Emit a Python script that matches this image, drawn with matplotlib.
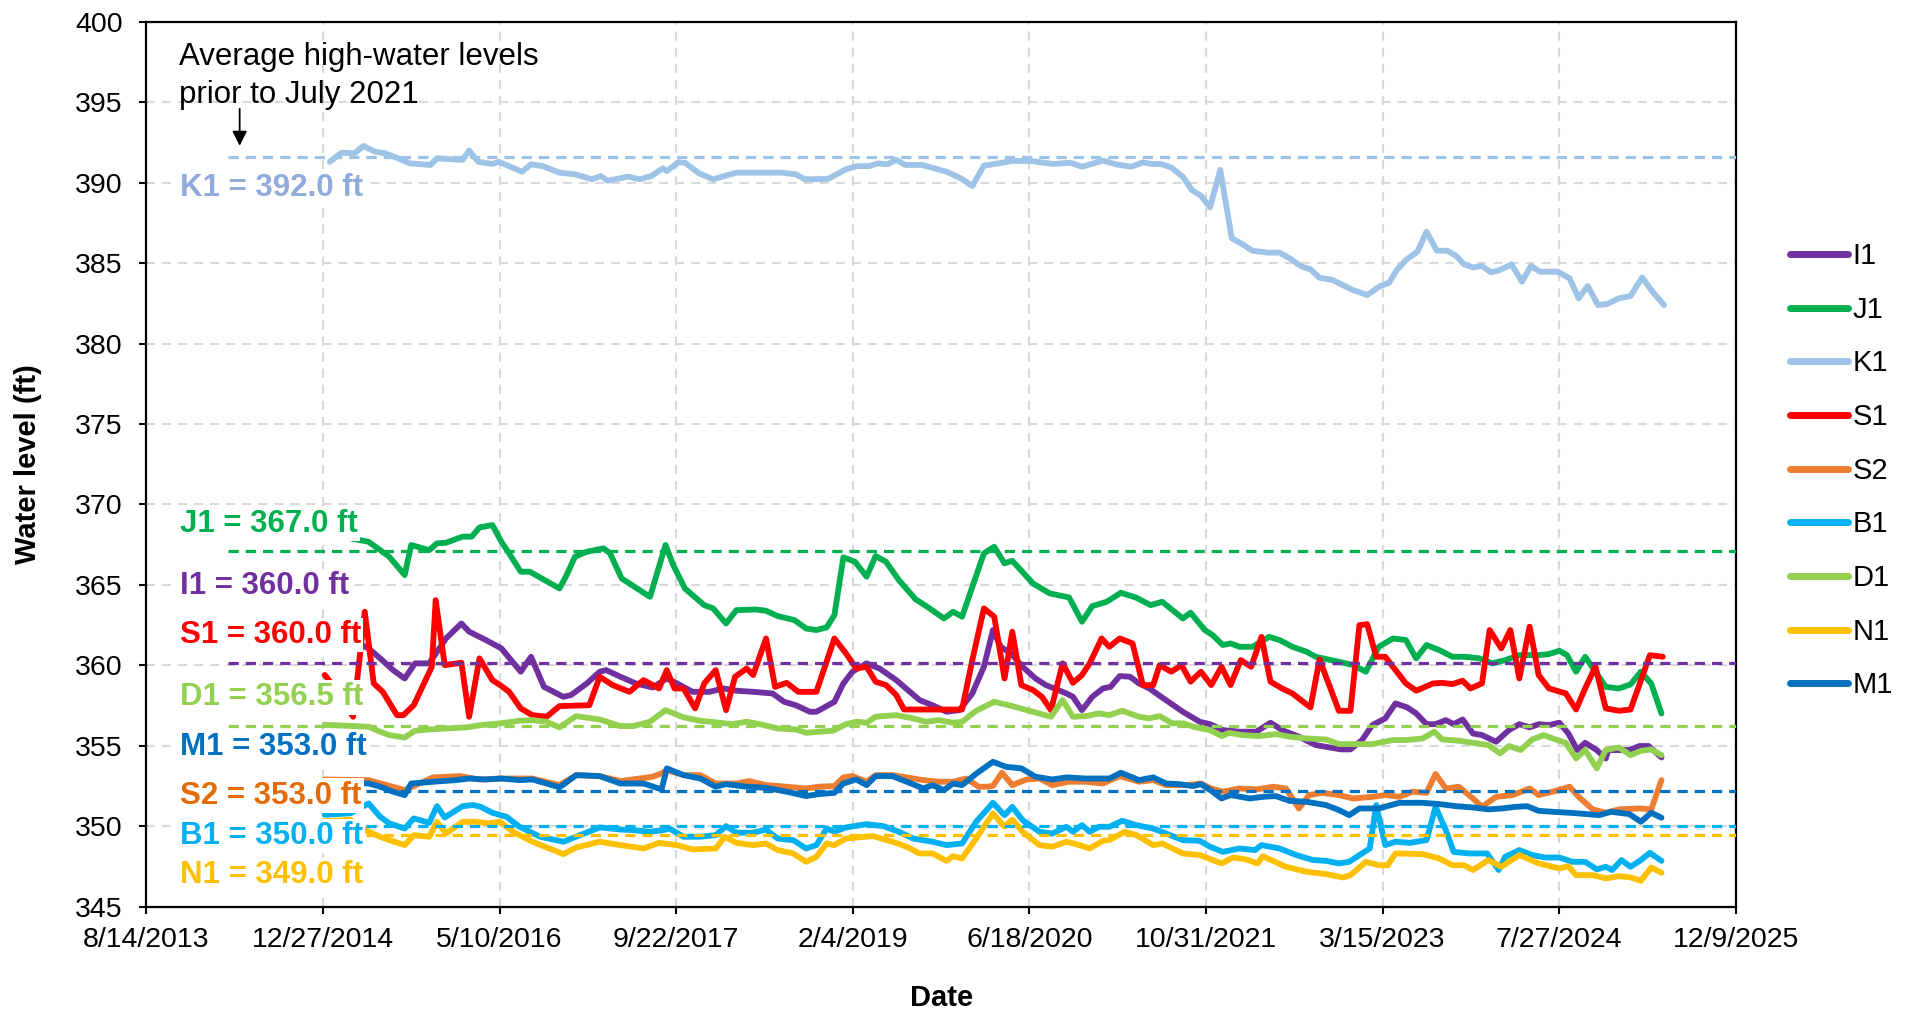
import datetime as dt
import matplotlib
matplotlib.use('Agg')
import matplotlib.pyplot as plt
from matplotlib.lines import Line2D

plt.rcParams['font.family'] = ['Liberation Sans', 'DejaVu Sans']

# water levels (decimal year, ft)
I1 = [(2015.0, 362.3), (2015.2, 361.6), (2015.34, 361.05), (2015.43, 360.43), (2015.53, 359.7), (2015.62, 359.18),
      (2015.70, 360.12), (2015.81, 360.12), (2015.94, 361.67), (2016.06, 362.6), (2016.12, 362.09), (2016.25, 361.57),
      (2016.37, 361.05), (2016.52, 359.6), (2016.60, 360.53), (2016.70, 358.66), (2016.85, 358.04), (2016.91, 358.15),
      (2017.03, 358.87), (2017.13, 359.6), (2017.18, 359.7), (2017.29, 359.29), (2017.41, 358.87), (2017.54, 358.62),
      (2017.65, 359.18), (2017.73, 358.87), (2017.85, 358.35), (2017.98, 358.35), (2018.09, 358.56), (2018.19, 358.42),
      (2018.32, 358.35), (2018.47, 358.25), (2018.56, 357.73), (2018.65, 357.52), (2018.76, 357.11), (2018.81, 357.11),
      (2018.95, 357.73), (2019.02, 358.87), (2019.09, 359.6), (2019.20, 360.12), (2019.30, 359.8), (2019.43, 359.08),
      (2019.61, 357.84), (2019.71, 357.52), (2019.82, 357.11), (2019.92, 357.21), (2020.02, 358.25), (2020.11, 359.91),
      (2020.18, 362.19), (2020.24, 361.15), (2020.32, 360.74), (2020.41, 359.91), (2020.51, 359.18), (2020.59, 358.77),
      (2020.75, 358.25), (2020.80, 358.04), (2020.87, 357.21), (2020.95, 358.04), (2021.03, 358.56), (2021.09, 358.66),
      (2021.16, 359.33), (2021.24, 359.29), (2021.31, 358.87), (2021.39, 358.56), (2021.50, 357.94), (2021.65, 357.11),
      (2021.78, 356.49), (2021.86, 356.34), (2021.96, 355.97), (2022.09, 355.87), (2022.22, 355.87), (2022.33, 356.43),
      (2022.42, 355.97), (2022.55, 355.56), (2022.68, 355.04), (2022.76, 354.93), (2022.88, 354.77), (2022.95, 354.77),
      (2023.04, 355.35), (2023.12, 356.28), (2023.22, 356.7), (2023.30, 357.63), (2023.39, 357.38), (2023.46, 357.01),
      (2023.54, 356.34), (2023.61, 356.34), (2023.69, 356.59), (2023.75, 356.34), (2023.82, 356.63), (2023.90, 355.76),
      (2023.97, 355.66), (2024.08, 355.25), (2024.18, 355.97), (2024.26, 356.34), (2024.34, 356.14), (2024.41, 356.34),
      (2024.49, 356.28), (2024.57, 356.43), (2024.64, 355.76), (2024.71, 354.73), (2024.77, 355.18), (2024.86, 354.73),
      (2024.93, 354.21), (2024.95, 354.73), (2025.03, 354.73), (2025.11, 354.73), (2025.19, 354.98), (2025.26, 354.98),
      (2025.36, 354.27)]

J1 = [(2015.0, 368.2), (2015.34, 367.68), (2015.43, 367.16), (2015.50, 366.75), (2015.62, 365.61), (2015.67, 367.48),
      (2015.81, 367.16), (2015.87, 367.58), (2015.94, 367.62), (2016.07, 368.0), (2016.14, 368.0), (2016.20, 368.57),
      (2016.30, 368.72), (2016.37, 367.68), (2016.43, 366.96), (2016.52, 365.82), (2016.59, 365.82), (2016.82, 364.78),
      (2016.87, 365.51), (2016.94, 366.75), (2017.03, 367.06), (2017.16, 367.27), (2017.21, 366.96), (2017.30, 365.40),
      (2017.52, 364.26), (2017.64, 367.48), (2017.70, 366.23), (2017.79, 364.78), (2017.94, 363.74), (2018.01, 363.54),
      (2018.11, 362.6), (2018.19, 363.43), (2018.34, 363.47), (2018.42, 363.39), (2018.51, 363.06), (2018.64, 362.81),
      (2018.73, 362.29), (2018.81, 362.19), (2018.89, 362.36), (2018.95, 363.12), (2019.02, 366.71), (2019.11, 366.44),
      (2019.20, 365.51), (2019.27, 366.79), (2019.35, 366.44), (2019.45, 365.3), (2019.58, 364.1), (2019.67, 363.64),
      (2019.80, 362.91), (2019.87, 363.33), (2019.94, 363.02), (2020.11, 366.96), (2020.19, 367.37), (2020.27, 366.34),
      (2020.33, 366.5), (2020.49, 365.09), (2020.62, 364.47), (2020.77, 364.22), (2020.87, 362.71), (2020.95, 363.68),
      (2021.06, 363.95), (2021.17, 364.51), (2021.29, 364.2), (2021.40, 363.74), (2021.49, 363.95), (2021.65, 362.91),
      (2021.71, 363.27), (2021.82, 362.19), (2021.88, 361.88), (2021.96, 361.26), (2022.02, 361.36), (2022.09, 361.15),
      (2022.19, 361.15), (2022.32, 361.77), (2022.40, 361.57), (2022.50, 361.15), (2022.61, 360.84), (2022.68, 360.53),
      (2022.86, 360.22), (2022.97, 360.01), (2023.07, 359.6), (2023.17, 361.15), (2023.28, 361.67), (2023.38, 361.57),
      (2023.46, 360.43), (2023.54, 361.26), (2023.64, 360.94), (2023.74, 360.53), (2023.84, 360.53), (2023.95, 360.43),
      (2024.05, 360.12), (2024.15, 360.32), (2024.26, 360.63), (2024.41, 360.63), (2024.49, 360.7), (2024.57, 360.9),
      (2024.63, 360.63), (2024.70, 359.6), (2024.77, 360.53), (2024.93, 358.66), (2025.03, 358.56), (2025.12, 358.81),
      (2025.20, 359.6), (2025.28, 358.87), (2025.36, 357.0)]

K1 = [(2015.04, 391.31), (2015.13, 391.87), (2015.23, 391.83), (2015.30, 392.29), (2015.39, 391.94), (2015.47, 391.83),
      (2015.57, 391.52), (2015.66, 391.21), (2015.82, 391.11), (2015.87, 391.52), (2016.07, 391.42), (2016.12, 392.0),
      (2016.19, 391.31), (2016.30, 391.17), (2016.35, 391.31), (2016.53, 390.69), (2016.60, 391.15), (2016.69, 391.04),
      (2016.82, 390.63), (2016.94, 390.53), (2017.07, 390.22), (2017.14, 390.42), (2017.19, 390.13), (2017.35, 390.38),
      (2017.44, 390.22), (2017.53, 390.42), (2017.62, 390.90), (2017.65, 390.73), (2017.74, 391.27), (2017.79, 391.25),
      (2017.90, 390.59), (2018.01, 390.22), (2018.19, 390.63), (2018.54, 390.63), (2018.65, 390.53), (2018.72, 390.22),
      (2018.90, 390.24), (2019.04, 390.84), (2019.13, 391.04), (2019.22, 391.04), (2019.29, 391.21), (2019.36, 391.15),
      (2019.43, 391.42), (2019.50, 391.11), (2019.63, 391.11), (2019.82, 390.69), (2019.93, 390.28), (2020.02, 389.8),
      (2020.11, 391.07), (2020.18, 391.15), (2020.33, 391.36), (2020.47, 391.36), (2020.65, 391.17), (2020.78, 391.25),
      (2020.87, 391.0), (2021.03, 391.38), (2021.13, 391.15), (2021.25, 391.0), (2021.34, 391.27), (2021.41, 391.17),
      (2021.48, 391.17), (2021.56, 390.96), (2021.65, 390.38), (2021.72, 389.55), (2021.79, 389.2), (2021.86, 388.47),
      (2021.94, 390.8), (2022.03, 386.55), (2022.10, 386.24), (2022.19, 385.78), (2022.31, 385.66), (2022.40, 385.66),
      (2022.48, 385.3), (2022.57, 384.8), (2022.64, 384.62), (2022.71, 384.1), (2022.81, 383.96), (2022.97, 383.33),
      (2023.08, 383.02), (2023.18, 383.58), (2023.25, 383.79), (2023.31, 384.58), (2023.38, 385.2), (2023.47, 385.72),
      (2023.54, 386.96), (2023.62, 385.78), (2023.70, 385.78), (2023.77, 385.45), (2023.83, 384.93), (2023.90, 384.74),
      (2023.97, 384.83), (2024.04, 384.43), (2024.11, 384.58), (2024.20, 384.93), (2024.28, 383.85), (2024.35, 384.83),
      (2024.42, 384.47), (2024.56, 384.47), (2024.65, 384.06), (2024.72, 382.82), (2024.79, 383.58), (2024.87, 382.4),
      (2024.94, 382.46), (2025.03, 382.82), (2025.12, 382.96), (2025.21, 384.12), (2025.29, 383.23), (2025.38, 382.4)]

S1 = [(2015.0, 359.4), (2015.1, 358.4), (2015.22, 356.8), (2015.31, 363.33), (2015.38, 358.87), (2015.45, 358.35),
      (2015.56, 356.90), (2015.61, 356.90), (2015.69, 357.52), (2015.83, 359.91), (2015.86, 364.05), (2015.93, 360.01),
      (2016.06, 360.16), (2016.12, 356.8), (2016.20, 360.43), (2016.30, 359.08), (2016.36, 358.77), (2016.43, 358.35),
      (2016.52, 357.32), (2016.61, 356.90), (2016.72, 356.8), (2016.82, 357.46), (2017.05, 357.52), (2017.13, 359.29),
      (2017.23, 358.77), (2017.36, 358.35), (2017.47, 359.08), (2017.59, 358.56), (2017.65, 359.7), (2017.71, 358.56),
      (2017.78, 358.56), (2017.87, 357.32), (2017.94, 358.87), (2018.03, 359.7), (2018.11, 357.21), (2018.18, 359.29),
      (2018.27, 359.8), (2018.32, 359.39), (2018.42, 361.67), (2018.49, 358.66), (2018.58, 358.91), (2018.67, 358.35),
      (2018.81, 358.35), (2018.95, 361.67), (2019.04, 360.74), (2019.12, 359.8), (2019.20, 359.91), (2019.27, 358.98),
      (2019.35, 358.77), (2019.43, 358.15), (2019.49, 357.25), (2019.94, 357.25), (2020.02, 360.32), (2020.11, 363.54),
      (2020.19, 363.02), (2020.27, 359.18), (2020.33, 362.09), (2020.40, 358.77), (2020.49, 358.46), (2020.56, 358.04),
      (2020.63, 357.21), (2020.72, 360.12), (2020.80, 358.91), (2020.87, 359.39), (2020.93, 360.12), (2021.02, 361.67),
      (2021.08, 361.15), (2021.16, 361.67), (2021.26, 361.36), (2021.34, 358.77), (2021.42, 358.77), (2021.47, 360.01),
      (2021.56, 359.6), (2021.64, 360.01), (2021.71, 358.98), (2021.79, 359.6), (2021.87, 358.77), (2021.95, 359.91),
      (2022.02, 358.77), (2022.10, 360.32), (2022.18, 359.91), (2022.26, 361.77), (2022.33, 358.98), (2022.42, 358.56),
      (2022.50, 358.25), (2022.64, 357.38), (2022.71, 360.36), (2022.86, 357.17), (2022.95, 357.17), (2023.02, 362.5),
      (2023.08, 362.56), (2023.15, 360.53), (2023.22, 360.53), (2023.38, 358.87), (2023.46, 358.42), (2023.59, 358.87),
      (2023.66, 358.91), (2023.74, 358.83), (2023.82, 359.04), (2023.88, 358.56), (2023.97, 358.87), (2024.03, 362.19),
      (2024.12, 361.05), (2024.19, 362.19), (2024.26, 359.18), (2024.34, 362.4), (2024.41, 359.39), (2024.49, 358.56),
      (2024.62, 358.25), (2024.70, 357.25), (2024.77, 358.56), (2024.85, 359.91), (2024.93, 357.32), (2025.03, 357.17),
      (2025.12, 357.25), (2025.27, 360.63), (2025.37, 360.53)]

S2 = [(2015.0, 352.9), (2015.34, 352.86), (2015.62, 352.24), (2015.84, 353.03), (2016.05, 353.11), (2016.20, 352.9),
      (2016.37, 352.96), (2016.61, 352.96), (2016.82, 352.55), (2016.95, 353.17), (2017.13, 353.11), (2017.29, 352.8),
      (2017.54, 353.07), (2017.61, 353.28), (2017.65, 353.48), (2017.78, 353.17), (2017.91, 353.17), (2018.03, 352.65),
      (2018.19, 352.65), (2018.29, 352.8), (2018.42, 352.55), (2018.58, 352.45), (2018.73, 352.34), (2018.83, 352.45),
      (2018.95, 352.49), (2019.02, 353.03), (2019.09, 353.11), (2019.20, 352.76), (2019.27, 353.17), (2019.40, 353.17),
      (2019.51, 353.03), (2019.64, 352.86), (2019.76, 352.76), (2019.87, 352.76), (2019.97, 352.96), (2020.07, 352.45),
      (2020.13, 352.45), (2020.18, 352.5), (2020.25, 353.32), (2020.33, 352.55), (2020.44, 352.9), (2020.54, 352.96),
      (2020.64, 352.55), (2020.77, 352.76), (2020.90, 352.76), (2021.03, 352.65), (2021.16, 353.11), (2021.31, 352.76),
      (2021.42, 352.86), (2021.52, 352.55), (2021.68, 352.55), (2021.79, 352.65), (2021.87, 352.34), (2021.96, 352.14),
      (2022.09, 352.34), (2022.22, 352.28), (2022.35, 352.45), (2022.45, 352.34), (2022.55, 351.1), (2022.63, 351.93),
      (2022.73, 352.07), (2022.86, 351.93), (2022.97, 351.72), (2023.12, 351.82), (2023.22, 351.93), (2023.33, 351.82),
      (2023.43, 352.14), (2023.54, 352.07), (2023.61, 353.24), (2023.69, 352.34), (2023.79, 352.45), (2023.90, 351.72),
      (2023.97, 351.2), (2024.08, 351.82), (2024.21, 351.93), (2024.34, 352.34), (2024.41, 351.93), (2024.52, 352.14),
      (2024.65, 352.45), (2024.72, 351.82), (2024.83, 351.04), (2024.93, 350.83), (2025.03, 351.04), (2025.19, 351.1),
      (2025.28, 351.04), (2025.36, 352.86)]

B1 = [(2015.0, 350.7), (2015.2, 350.8), (2015.34, 351.41), (2015.43, 350.58), (2015.50, 350.17), (2015.62, 349.85),
      (2015.69, 350.48), (2015.81, 350.21), (2015.87, 351.24), (2015.93, 350.54), (2016.07, 351.24), (2016.15, 351.31),
      (2016.21, 351.2), (2016.30, 350.83), (2016.41, 350.58), (2016.51, 349.96), (2016.67, 349.34), (2016.85, 349.03),
      (2016.98, 349.44), (2017.13, 349.92), (2017.29, 349.79), (2017.39, 349.75), (2017.52, 349.65), (2017.62, 349.75),
      (2017.67, 349.85), (2017.78, 349.34), (2017.91, 349.34), (2018.03, 349.44), (2018.11, 350.0), (2018.19, 349.59),
      (2018.32, 349.59), (2018.42, 349.79), (2018.51, 349.23), (2018.63, 349.13), (2018.73, 348.61), (2018.81, 348.82),
      (2018.89, 349.85), (2018.95, 349.65), (2019.04, 349.92), (2019.20, 350.12), (2019.33, 350.0), (2019.45, 349.65),
      (2019.56, 349.23), (2019.71, 349.03), (2019.82, 348.82), (2019.94, 348.92), (2020.05, 350.27), (2020.18, 351.45),
      (2020.27, 350.68), (2020.33, 351.2), (2020.41, 350.37), (2020.54, 349.65), (2020.64, 349.54), (2020.75, 349.96),
      (2020.80, 349.65), (2020.87, 350.06), (2020.93, 349.65), (2021.00, 349.96), (2021.08, 349.96), (2021.18, 350.33),
      (2021.29, 350.06), (2021.42, 349.85), (2021.52, 349.54), (2021.65, 349.13), (2021.78, 349.09), (2021.86, 348.72),
      (2021.96, 348.4), (2022.09, 348.61), (2022.21, 348.51), (2022.26, 348.82), (2022.40, 348.61), (2022.53, 348.2),
      (2022.66, 347.89), (2022.76, 347.84), (2022.86, 347.68), (2022.94, 347.78), (2023.02, 348.2), (2023.10, 348.61),
      (2023.15, 351.31), (2023.22, 348.82), (2023.30, 349.03), (2023.41, 348.96), (2023.54, 349.13), (2023.61, 351.2),
      (2023.69, 349.75), (2023.75, 348.4), (2023.87, 348.3), (2024.01, 348.3), (2024.10, 347.27), (2024.15, 348.09),
      (2024.26, 348.51), (2024.36, 348.2), (2024.46, 348.05), (2024.57, 348.05), (2024.67, 347.78), (2024.77, 347.78),
      (2024.86, 347.31), (2024.93, 347.47), (2024.98, 347.27), (2025.05, 347.89), (2025.12, 347.47), (2025.20, 347.89),
      (2025.27, 348.34), (2025.36, 347.84)]

D1 = [(2015.0, 356.3), (2015.34, 356.18), (2015.43, 355.87), (2015.50, 355.66), (2015.62, 355.51), (2015.70, 355.93),
      (2015.81, 356.01), (2015.94, 356.07), (2016.10, 356.14), (2016.21, 356.28), (2016.36, 356.39), (2016.51, 356.55),
      (2016.61, 356.59), (2016.72, 356.49), (2016.82, 356.14), (2016.95, 356.84), (2017.13, 356.63), (2017.29, 356.22),
      (2017.39, 356.22), (2017.52, 356.49), (2017.64, 357.21), (2017.78, 356.76), (2017.91, 356.55), (2018.06, 356.43),
      (2018.16, 356.34), (2018.27, 356.49), (2018.37, 356.34), (2018.51, 356.07), (2018.65, 356.01), (2018.73, 355.8),
      (2018.83, 355.87), (2018.94, 355.93), (2019.04, 356.34), (2019.12, 356.49), (2019.20, 356.43), (2019.27, 356.8),
      (2019.43, 356.9), (2019.56, 356.7), (2019.66, 356.49), (2019.76, 356.59), (2019.87, 356.43), (2019.94, 356.49),
      (2020.05, 357.17), (2020.19, 357.73), (2020.33, 357.46), (2020.49, 357.11), (2020.63, 356.8), (2020.72, 357.84),
      (2020.80, 356.8), (2020.90, 356.84), (2021.00, 357.01), (2021.08, 356.9), (2021.18, 357.17), (2021.31, 356.8),
      (2021.39, 356.7), (2021.47, 356.84), (2021.57, 356.39), (2021.65, 356.39), (2021.75, 356.14), (2021.86, 355.97),
      (2021.95, 355.6), (2022.01, 355.8), (2022.11, 355.66), (2022.24, 355.6), (2022.37, 355.72), (2022.48, 355.56),
      (2022.61, 355.45), (2022.76, 355.39), (2022.86, 355.1), (2022.97, 355.1), (2023.12, 355.1), (2023.28, 355.35),
      (2023.38, 355.35), (2023.51, 355.45), (2023.60, 355.87), (2023.66, 355.39), (2023.79, 355.31), (2023.90, 355.18),
      (2024.02, 355.04), (2024.11, 354.52), (2024.18, 354.98), (2024.27, 354.73), (2024.36, 355.39), (2024.45, 355.66),
      (2024.54, 355.39), (2024.62, 355.18), (2024.70, 354.21), (2024.77, 354.73), (2024.86, 353.59), (2024.93, 354.73),
      (2025.03, 354.89), (2025.12, 354.41), (2025.20, 354.68), (2025.28, 354.77), (2025.36, 354.41)]

N1 = [(2015.0, 350.3), (2015.2, 350.4), (2015.34, 349.65), (2015.43, 349.34), (2015.50, 349.13), (2015.62, 348.82),
      (2015.69, 349.44), (2015.81, 349.34), (2015.87, 350.27), (2015.94, 349.54), (2016.07, 350.27), (2016.17, 350.27),
      (2016.27, 350.17), (2016.36, 350.27), (2016.46, 349.65), (2016.61, 349.03), (2016.85, 348.26), (2016.95, 348.67),
      (2017.13, 349.03), (2017.29, 348.82), (2017.47, 348.61), (2017.59, 348.96), (2017.73, 348.82), (2017.85, 348.55),
      (2018.03, 348.61), (2018.10, 349.34), (2018.19, 348.96), (2018.32, 348.82), (2018.42, 348.92), (2018.51, 348.51),
      (2018.63, 348.3), (2018.73, 347.78), (2018.81, 348.09), (2018.89, 348.92), (2018.95, 348.82), (2019.04, 349.23),
      (2019.25, 349.38), (2019.40, 349.03), (2019.51, 348.72), (2019.61, 348.3), (2019.71, 348.3), (2019.82, 347.84),
      (2019.87, 348.13), (2019.94, 347.99), (2020.05, 349.23), (2020.18, 350.79), (2020.27, 349.96), (2020.33, 350.41),
      (2020.41, 349.65), (2020.54, 348.82), (2020.64, 348.72), (2020.75, 349.03), (2020.85, 348.82), (2020.93, 348.61),
      (2021.03, 349.09), (2021.08, 349.13), (2021.20, 349.65), (2021.29, 349.44), (2021.42, 348.82), (2021.49, 348.92),
      (2021.65, 348.3), (2021.78, 348.2), (2021.95, 347.68), (2022.04, 348.05), (2022.14, 347.93), (2022.23, 347.68),
      (2022.27, 348.13), (2022.45, 347.47), (2022.61, 347.16), (2022.76, 347.02), (2022.89, 346.81), (2022.95, 346.95),
      (2023.07, 347.78), (2023.17, 347.57), (2023.24, 347.57), (2023.30, 348.3), (2023.51, 348.26), (2023.64, 347.99),
      (2023.74, 347.57), (2023.83, 347.57), (2023.90, 347.27), (2024.02, 347.89), (2024.12, 347.47), (2024.26, 348.2),
      (2024.41, 347.68), (2024.57, 347.37), (2024.64, 347.51), (2024.70, 346.95), (2024.83, 346.95), (2024.93, 346.75),
      (2025.03, 346.89), (2025.12, 346.81), (2025.20, 346.6), (2025.28, 347.43), (2025.36, 347.1)]

M1 = [(2015.0, 352.8), (2015.34, 352.65), (2015.43, 352.45), (2015.53, 352.14), (2015.62, 351.93), (2015.67, 352.65),
      (2015.84, 352.76), (2016.02, 352.86), (2016.12, 352.96), (2016.25, 352.9), (2016.37, 352.96), (2016.51, 352.86),
      (2016.61, 352.9), (2016.72, 352.65), (2016.82, 352.41), (2016.95, 353.17), (2017.13, 353.11), (2017.29, 352.65),
      (2017.47, 352.65), (2017.61, 352.28), (2017.65, 353.59), (2017.78, 353.17), (2017.91, 352.96), (2018.03, 352.45),
      (2018.11, 352.61), (2018.27, 352.45), (2018.42, 352.38), (2018.58, 352.14), (2018.73, 351.87), (2018.83, 351.99),
      (2018.95, 352.07), (2019.02, 352.65), (2019.12, 352.9), (2019.20, 352.55), (2019.27, 353.11), (2019.40, 353.11),
      (2019.51, 352.76), (2019.64, 352.34), (2019.71, 352.55), (2019.80, 352.24), (2019.87, 352.65), (2019.94, 352.55),
      (2020.06, 353.32), (2020.18, 354.0), (2020.28, 353.69), (2020.40, 353.59), (2020.51, 353.07), (2020.64, 352.9),
      (2020.75, 353.03), (2020.90, 352.96), (2021.08, 352.96), (2021.17, 353.32), (2021.31, 352.86), (2021.42, 353.03),
      (2021.52, 352.65), (2021.62, 352.61), (2021.73, 352.49), (2021.79, 352.61), (2021.87, 352.2), (2021.95, 351.72),
      (2022.02, 351.93), (2022.17, 351.72), (2022.27, 351.82), (2022.37, 351.87), (2022.48, 351.57), (2022.61, 351.51),
      (2022.76, 351.31), (2022.86, 351.0), (2022.94, 350.68), (2023.02, 351.1), (2023.17, 351.1), (2023.33, 351.45),
      (2023.51, 351.45), (2023.64, 351.37), (2023.77, 351.24), (2023.90, 351.16), (2024.02, 351.04), (2024.13, 351.1),
      (2024.23, 351.2), (2024.32, 351.24), (2024.41, 350.95), (2024.52, 350.89), (2024.65, 350.83), (2024.72, 350.79),
      (2024.88, 350.68), (2024.97, 350.89), (2025.11, 350.75), (2025.20, 350.27), (2025.28, 350.83), (2025.36, 350.52)]

names = ['I1', 'J1', 'K1', 'S1', 'S2', 'B1', 'D1', 'N1', 'M1']
colors = ['#7030A0', '#00B050', '#9DC3E6', '#FF0000', '#ED7D31', '#00B0F0', '#92D050', '#FFC000', '#0070C0']
series = [I1, J1, K1, S1, S2, B1, D1, N1, M1]

# average high-water levels prior to July 2021 (dashed lines)
avg_levels = [391.6, 367.1, 360.15, 356.2, 352.2, 350.0, 349.45]
avg_colors = ['#9DC3E6', '#00B050', '#7030A0', '#92D050', '#0070C0', '#00B0F0', '#FFC000']

label_text = ['K1 = 392.0 ft', 'J1 = 367.0 ft', 'I1 = 360.0 ft', 'S1 = 360.0 ft', 'D1 = 356.5 ft',
              'M1 = 353.0 ft', 'S2 = 353.0 ft', 'B1 = 350.0 ft', 'N1 = 349.0 ft']
label_y = [389.7, 368.8, 364.9, 361.9, 358.0, 354.9, 351.9, 349.4, 346.95]
label_colors = ['#8FAADC', '#00B050', '#7030A0', '#FF0000', '#92D050', '#0070C0', '#E36C09', '#00B0F0', '#FFC000']


def yr2date(y):
    return dt.datetime(int(y), 1, 1) + dt.timedelta(days=(y - int(y)) * 365.25)


fig = plt.figure(figsize=(19.13, 10.13), dpi=100)
ax = fig.add_axes([0.0765, 0.1051, 0.8309, 0.8732])

x0 = dt.datetime(2013, 8, 14)
x1 = dt.datetime(2025, 12, 9)

for name, pts, c in zip(names, series, colors):
    ax.plot([yr2date(p[0]) for p in pts], [p[1] for p in pts], color=c, lw=4.2,
            solid_joinstyle='round', solid_capstyle='round', zorder=3)

for v, c in zip(avg_levels, avg_colors):
    ax.plot([yr2date(2014.25), x1], [v, v], color=c, lw=2.3, dashes=(3.2, 2.2), zorder=4)

for t, y, c in zip(label_text, label_y, label_colors):
    ax.text(yr2date(2013.877), y, t, color=c, fontsize=22.5, fontweight='bold', ha='left', va='center',
            zorder=6, bbox=dict(fc='white', ec='none', pad=1.5))

ax.set_xlim(x0, x1)
ax.set_ylim(345, 400)
ticks = [x0 + dt.timedelta(days=500 * i) for i in range(10)]
ax.set_xticks(ticks)
ax.set_xticklabels([f'{d.month}/{d.day}/{d.year}' for d in ticks])
ax.set_yticks(range(345, 401, 5))

ax.grid(True, color='#D9D9D9', lw=1.5, linestyle=(0, (4.3, 3.4)))
ax.set_axisbelow(True)
for s in ax.spines.values():
    s.set_linewidth(1.6)
ax.tick_params(axis='both', direction='out', length=5, width=1.5, labelsize=20.5)
ax.tick_params(axis='x', pad=10)
ax.tick_params(axis='y', pad=12)

ax.set_ylabel('Water level (ft)', fontsize=21, fontweight='bold')
ax.set_xlabel('Date', fontsize=21, fontweight='bold')
ax.yaxis.set_label_coords(-0.0657, 0.5)
ax.xaxis.set_label_coords(0.5, -0.0876)

fig.text(179 / 1913, 1 - 76 / 1013, 'Average high-water levels\nprior to July 2021', fontsize=22.5,
         ha='left', va='center', linespacing=1.35)
ax.annotate('', xy=(yr2date(2014.34), 392.3), xytext=(yr2date(2014.34), 394.6),
            arrowprops=dict(arrowstyle='-|>', color='black', lw=1.3, mutation_scale=22, shrinkA=0, shrinkB=0))

handles = [Line2D([], [], color=c, lw=5, solid_capstyle='round') for c in colors]
ax.legend(handles, names, loc='upper left', bbox_to_anchor=(1790 / 1913, 0.761), bbox_transform=fig.transFigure,
          frameon=False, fontsize=21, handlelength=2.0, handletextpad=0.15, labelspacing=0.88,
          borderpad=0, borderaxespad=0)

fig.savefig('out.png', dpi=100)
